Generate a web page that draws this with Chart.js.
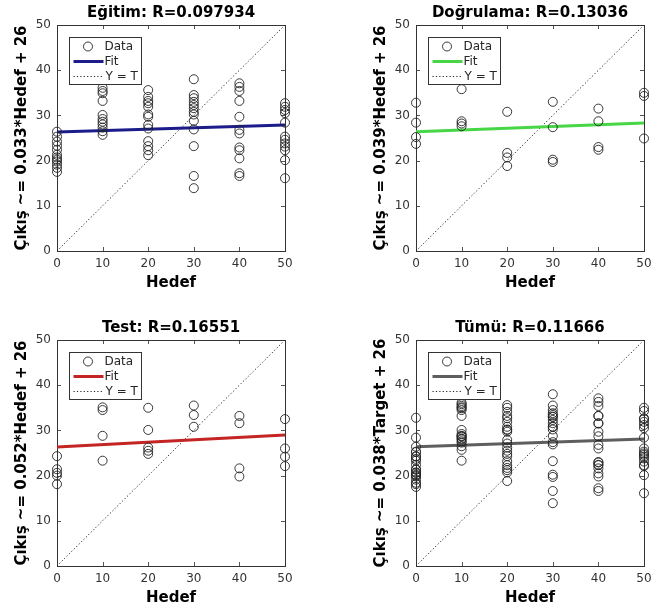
<!DOCTYPE html>
<html>
<head>
<meta charset="utf-8">
<script src="https://cdn.jsdelivr.net/npm/chart.js@4/dist/chart.umd.min.js"></script>
<style>
  html, body { margin: 0; padding: 0; background: #fff; }
  #wrap { position: relative; width: 667px; height: 613px; overflow: hidden; background: #fff; }
  #wrap canvas { position: absolute; }
</style>
</head>
<body>
<div id="wrap">
  <canvas id="c0" width="342" height="298" style="left:0px;top:0px"></canvas>
  <canvas id="c1" width="342" height="298" style="left:359px;top:0px"></canvas>
  <canvas id="c2" width="342" height="298" style="left:0px;top:315px"></canvas>
  <canvas id="c3" width="342" height="298" style="left:359px;top:315px"></canvas>
</div>
<script>
// --- veriler (hedef sütunlarına göre çıkışlar) ---
const hedefler = [0, 10, 20, 30, 40, 50];

const egitimCikis = [
  [26.4, 25.3, 24.2, 23.3, 22.4, 21.3, 20.7, 20.2, 19.8, 19.1, 18.4, 17.5],
  [36.1, 35.4, 34.9, 33.2, 30.1, 29.2, 28.6, 28.0, 27.3, 26.5, 25.7],
  [35.6, 34.1, 33.2, 32.7, 31.9, 30.2, 29.7, 27.9, 27.1, 24.3, 23.2, 22.3, 21.2],
  [38.0, 34.5, 33.8, 33.0, 32.3, 31.6, 30.8, 30.2, 28.8, 26.9, 23.2, 16.6, 13.9],
  [37.1, 36.3, 35.4, 33.2, 29.7, 26.8, 26.0, 22.9, 22.3, 20.5, 17.2, 16.6],
  [32.7, 31.9, 31.2, 30.5, 28.4, 25.3, 24.6, 23.8, 23.1, 22.3, 20.1, 16.1]
];
const dogrulamaCikis = [
  [32.8, 28.4, 25.2, 23.7],
  [35.8, 28.7, 28.2, 27.6],
  [30.8, 21.7, 20.7, 18.8],
  [33.0, 27.4, 20.2, 19.7],
  [31.5, 28.7, 23.0, 22.4],
  [35.0, 34.3, 24.9]
];
const testCikis = [
  [24.3, 21.4, 20.6, 20.0, 18.1],
  [35.1, 34.5, 28.8, 23.3],
  [35.0, 30.1, 26.2, 25.5, 24.8],
  [35.5, 33.4, 30.8],
  [33.2, 31.6, 21.6, 19.8],
  [32.5, 26.0, 24.2, 22.1]
];
// Tümü = üç kümenin birleşimi
const tumuCikis = hedefler.map((h, i) =>
  egitimCikis[i].concat(dogrulamaCikis[i], testCikis[i]));

const basliklar = ['Eğitim: R=0.097934', 'Doğrulama: R=0.13036', 'Test: R=0.16551', 'Tümü: R=0.11666'];
const yBasliklar = ['Çıkış ~= 0.033*Hedef + 26', 'Çıkış ~= 0.039*Hedef + 26',
                    'Çıkış ~= 0.052*Hedef + 26', 'Çıkış ~= 0.038*Target + 26'];
const fitBas = [26.3, 26.4, 26.3, 26.4];   // x = 0'da uyum
const fitSon = [27.9, 28.3, 29.0, 28.1];   // x = 50'de uyum
const fitRenk = ['#1c1c8a', '#46d646', '#c42424', '#5e5e5e'];
const eksenMin = 0, eksenMax = 50;
const tickDegerleri = [0, 10, 20, 30, 40, 50];
const legendEtiket = ['Data', 'Fit', 'Y = T'];

const FONT = 'DejaVu Sans, Liberation Sans, sans-serif';

function noktalar(cikis) {
  const out = [];
  cikis.forEach((col, i) => col.forEach(v => out.push({ x: hedefler[i], y: v })));
  return out;
}

// kutu + içe doğru tick çizgileri
const kutuPlugin = {
  id: 'kutu',
  beforeDatasetsDraw(chart) {
    const { ctx, chartArea: a, scales } = chart;
    ctx.save();
    ctx.strokeStyle = '#555';
    ctx.lineWidth = 1;
    ctx.beginPath();
    tickDegerleri.forEach(v => {
      const px = Math.round(scales.x.getPixelForValue(v)) + 0.5;
      const py = Math.round(scales.y.getPixelForValue(v)) + 0.5;
      ctx.moveTo(px, a.bottom); ctx.lineTo(px, a.bottom - 4);
      ctx.moveTo(px, a.top);    ctx.lineTo(px, a.top + 4);
      ctx.moveTo(a.left, py);   ctx.lineTo(a.left + 4, py);
      ctx.moveTo(a.right, py);  ctx.lineTo(a.right - 4, py);
    });
    ctx.stroke();
    ctx.strokeStyle = '#333';
    ctx.strokeRect(Math.round(a.left) + 0.5, Math.round(a.top) + 0.5,
                   Math.round(a.right - a.left), Math.round(a.bottom - a.top));
    ctx.restore();
  },
  afterDatasetsDraw(chart) {
    // MATLAB tarzı lejant kutusu
    const { ctx, chartArea: a } = chart;
    const ds = chart.data.datasets;
    const bx = Math.round(a.left) + 12.5, by = Math.round(a.top) + 12.5;
    const bw = 72, bh = 47;
    ctx.save();
    ctx.fillStyle = '#fff';
    ctx.fillRect(bx, by, bw, bh);
    ctx.strokeStyle = '#333';
    ctx.lineWidth = 1;
    ctx.strokeRect(bx, by, bw, bh);
    ctx.font = '12px ' + FONT;
    ctx.fillStyle = '#262626';
    ctx.textBaseline = 'middle';
    const rows = [by + 9, by + 24, by + 39];
    // Data
    ctx.beginPath();
    ctx.arc(bx + 18.5, rows[0], 4.5, 0, Math.PI * 2);
    ctx.strokeStyle = ds[0].borderColor;
    ctx.stroke();
    // Fit
    ctx.beginPath();
    ctx.moveTo(bx + 4, rows[1]); ctx.lineTo(bx + 34, rows[1]);
    ctx.strokeStyle = ds[1].borderColor;
    ctx.lineWidth = ds[1].borderWidth;
    ctx.stroke();
    // Y = T
    ctx.beginPath();
    ctx.setLineDash(ds[2].borderDash);
    ctx.moveTo(bx + 4, rows[2]); ctx.lineTo(bx + 34, rows[2]);
    ctx.strokeStyle = ds[2].borderColor;
    ctx.lineWidth = ds[2].borderWidth;
    ctx.stroke();
    ctx.setLineDash([]);
    ctx.fillText(ds[0].label, bx + 35, rows[0]);
    ctx.fillText(ds[1].label, bx + 35, rows[1]);
    ctx.fillText(ds[2].label, bx + 36, rows[2]);
    ctx.restore();
  }
};

const kumeler = [egitimCikis, dogrulamaCikis, testCikis, tumuCikis];

kumeler.forEach((cikis, k) => {
  new Chart(document.getElementById('c' + k), {
    type: 'scatter',
    data: {
      datasets: [
        {
          label: legendEtiket[0],
          data: noktalar(cikis),
          pointStyle: 'circle',
          pointRadius: 4.5,
          pointBorderWidth: 1,
          borderColor: 'rgba(35,35,35,0.9)',
          backgroundColor: 'rgba(0,0,0,0)',
          showLine: false,
          clip: false,
          order: 0
        },
        {
          label: legendEtiket[1],
          type: 'line',
          data: [{ x: eksenMin, y: fitBas[k] }, { x: eksenMax, y: fitSon[k] }],
          borderColor: fitRenk[k],
          borderWidth: 3,
          pointRadius: 0,
          order: 1
        },
        {
          label: legendEtiket[2],
          type: 'line',
          data: [{ x: eksenMin, y: eksenMin }, { x: eksenMax, y: eksenMax }],
          borderColor: '#222',
          borderWidth: 1,
          borderDash: [1.2, 2.2],
          pointRadius: 0,
          order: 2
        }
      ]
    },
    options: {
      responsive: false,
      animation: false,
      layout: { padding: 0 },
      plugins: {
        legend: { display: false },
        tooltip: { enabled: false },
        title: {
          display: true,
          text: basliklar[k],
          color: '#000',
          font: { family: FONT, size: 15, weight: 'bold', lineHeight: 1.2 },
          padding: { top: 4, bottom: 3 }
        }
      },
      scales: {
        x: {
          type: 'linear',
          min: eksenMin, max: eksenMax,
          afterBuildTicks: s => { s.ticks = tickDegerleri.map(v => ({ value: v })); },
          grid: { display: false, drawTicks: false },
          border: { display: false },
          ticks: { color: '#333', padding: 6, maxRotation: 0,
                   font: { family: FONT, size: 12 } },
          title: { display: true, text: 'Hedef', color: '#000',
                   font: { family: FONT, size: 15, weight: 'bold', lineHeight: 1.2 },
                   padding: { top: 4, bottom: 6 } },
          afterFit: s => { s.height = 47; }
        },
        y: {
          type: 'linear',
          min: eksenMin, max: eksenMax,
          afterBuildTicks: s => { s.ticks = tickDegerleri.map(v => ({ value: v })); },
          grid: { display: false, drawTicks: false },
          border: { display: false },
          ticks: { color: '#333', padding: 6,
                   font: { family: FONT, size: 12 } },
          title: { display: true, text: yBasliklar[k], color: '#000',
                   font: { family: FONT, size: 15, weight: 'bold', lineHeight: 1.2 },
                   padding: { top: 13, bottom: 13 } },
          afterFit: s => { s.width = 57; }
        },
        // sağda boş eksen: başlığı çizim alanına ortalamak için
        y2: {
          type: 'linear',
          position: 'right',
          display: true,
          grid: { display: false, drawTicks: false },
          border: { display: false },
          ticks: { display: false },
          afterFit: s => { s.width = 57; }
        }
      }
    },
    plugins: [kutuPlugin]
  });
});
</script>
</body>
</html>
